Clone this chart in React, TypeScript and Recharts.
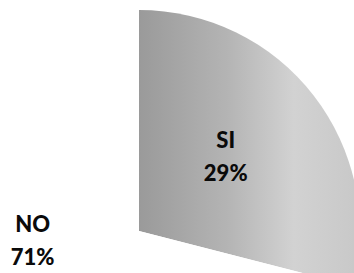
import { Pie, PieChart } from "recharts";

const categories = ["SI", "NO"];
const shares = [29, 71];
const percentLabels = ["29%", "71%"];

// where each label sits: angle (deg, recharts convention) and fraction of radius
const labelPlacement: Record<string, [number, number]> = {
  SI: [41, 0.52],
  NO: [184.6, 0.483],
};

const RADIAN = Math.PI / 180;

const data = categories.map((name, i) => ({
  name,
  value: shares[i],
  pct: percentLabels[i],
  fill: name === "SI" ? "url(#scanGrey)" : "#ffffff",
}));

function renderLabel(props: any) {
  const { cx, cy, outerRadius, name, payload } = props;
  const [angle, frac] = labelPlacement[name];
  const r = outerRadius * frac;
  const x = cx + r * Math.cos(-angle * RADIAN);
  const y = cy + r * Math.sin(-angle * RADIAN);
  return (
    <g
      fontFamily="Lato, 'Open Sans', sans-serif"
      fontWeight={900}
      fontSize={22}
      fill="#0a0a0a"
    >
      <text x={x} y={y - 16.5} dominantBaseline="central" textAnchor="middle">
        {name}
      </text>
      <text x={x} y={y + 16.5} dominantBaseline="central" textAnchor="middle">
        {payload.pct}
      </text>
    </g>
  );
}

export default function App() {
  return (
    <div
      style={{
        position: "fixed",
        left: 0,
        top: 0,
        width: 354,
        height: 273,
        background: "#ffffff",
      }}
    >
      <PieChart width={354} height={273} margin={{ top: 0, right: 0, bottom: 0, left: 0 }}>
        <defs>
          <linearGradient id="scanGrey" x1="0" y1="0" x2="1" y2="0">
            <stop offset="0%" stopColor="#9a9a9a" />
            <stop offset="40%" stopColor="#b4b4b4" />
            <stop offset="70%" stopColor="#d2d2d2" />
            <stop offset="100%" stopColor="#c8c8c8" />
          </linearGradient>
        </defs>
        <Pie
          data={data}
          dataKey="value"
          nameKey="name"
          cx={139}
          cy={231}
          outerRadius={221}
          startAngle={90}
          endAngle={-270}
          stroke="none"
          labelLine={false}
          label={renderLabel}
          isAnimationActive={false}
        />
      </PieChart>
    </div>
  );
}
